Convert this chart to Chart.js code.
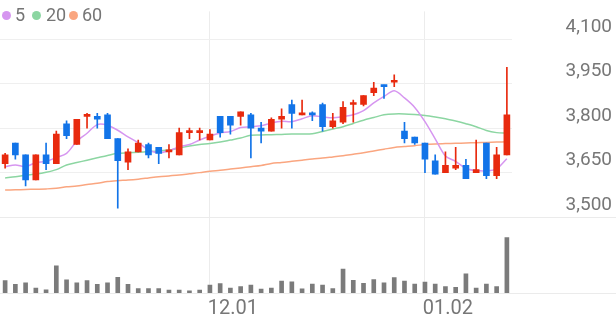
<!DOCTYPE html>
<html>
<head>
<meta charset="utf-8">
<script src="https://cdn.jsdelivr.net/npm/chart.js@4.4.0/dist/chart.umd.min.js"></script>
<style>
  html, body { margin: 0; padding: 0; background: #fff; }
  #wrap { position: relative; width: 616px; height: 321px; }
  #legend { position: absolute; left: 0; top: 0; width: 120px; height: 30px; font: 18px Roboto, sans-serif; color: #757575; }
  #legend .dot { position: absolute; top: 11px; width: 9px; height: 9px; border-radius: 50%; }
  #legend .txt { position: absolute; top: 4px; line-height: 22px; }
</style>
</head>
<body>
<div id="wrap">
  <canvas id="myChart" width="616" height="321"></canvas>
  <div id="legend"></div>
</div>
<script>
// 거래일 (2022.11.03 ~ 2023.01.12)
const dates = [
  '11.03', '11.04', '11.07', '11.08', '11.09', '11.10', '11.11', '11.14', '11.15', '11.16',
  '11.17', '11.18', '11.21', '11.22', '11.23', '11.24', '11.25', '11.28', '11.29', '11.30',
  '12.01', '12.02', '12.05', '12.06', '12.07', '12.08', '12.09', '12.12', '12.13', '12.14',
  '12.15', '12.16', '12.19', '12.20', '12.21', '12.22', '12.23', '12.26', '12.27', '12.28',
  '12.29', '01.02', '01.03', '01.04', '01.05', '01.06', '01.09', '01.10', '01.11', '01.12'
];

// 시가 / 고가 / 저가 / 종가
const openP = [
  3680, 3750, 3710, 3625, 3710, 3680, 3815, 3745, 3840, 3840,
  3845, 3765, 3685, 3720, 3745, 3735, 3720, 3710, 3785, 3785,
  3760, 3840, 3840, 3840, 3845, 3800, 3790, 3830, 3880, 3845,
  3850, 3880, 3805, 3820, 3880, 3880, 3920, 3945, 3955, 3790,
  3770, 3750, 3690, 3650, 3665, 3675, 3650, 3750, 3640, 3710
];
const highP = [
  3715, 3750, 3710, 3710, 3750, 3790, 3825, 3830, 3850, 3850,
  3850, 3765, 3730, 3760, 3750, 3735, 3745, 3800, 3800, 3800,
  3795, 3840, 3840, 3855, 3850, 3820, 3835, 3865, 3895, 3895,
  3855, 3885, 3850, 3890, 3895, 3910, 3955, 3945, 3980, 3820,
  3770, 3750, 3710, 3720, 3735, 3695, 3760, 3750, 3735, 4005
];
const lowP = [
  3665, 3695, 3605, 3625, 3660, 3680, 3765, 3745, 3800, 3800,
  3765, 3530, 3660, 3720, 3700, 3680, 3700, 3710, 3765, 3760,
  3760, 3770, 3780, 3810, 3700, 3750, 3790, 3800, 3800, 3845,
  3825, 3790, 3800, 3815, 3820, 3875, 3910, 3900, 3940, 3750,
  3745, 3650, 3645, 3650, 3660, 3630, 3650, 3630, 3630, 3710
];
const closeP = [
  3710, 3710, 3625, 3710, 3680, 3780, 3775, 3830, 3845, 3830,
  3765, 3690, 3720, 3750, 3710, 3715, 3725, 3785, 3790, 3785,
  3780, 3785, 3810, 3855, 3800, 3790, 3830, 3840, 3850, 3850,
  3845, 3805, 3825, 3870, 3885, 3910, 3935, 3940, 3960, 3765,
  3750, 3695, 3645, 3675, 3675, 3630, 3660, 3640, 3710, 3845
];

// 이동평균선
const ma5 = [
  3670, 3676, 3670, 3684, 3688, 3701, 3715, 3756, 3783, 3812,
  3810, 3793, 3771, 3751, 3727, 3717, 3724, 3737, 3745, 3760,
  3773, 3784, 3789, 3802, 3805, 3808, 3817, 3823, 3822, 3832,
  3842, 3838, 3835, 3839, 3845, 3859, 3885, 3907, 3926, 3902,
  3870, 3822, 3764, 3706, 3688, 3664, 3657, 3656, 3663, 3697
];
const ma20 = [
  3632, 3636, 3641, 3645, 3651, 3660, 3676, 3684, 3692, 3700,
  3708, 3715, 3717, 3719, 3721, 3723, 3726, 3733, 3740, 3745,
  3748, 3753, 3760, 3767, 3776, 3777, 3778, 3779, 3780, 3780,
  3781, 3789, 3797, 3805, 3816, 3827, 3836, 3845, 3848, 3848,
  3846, 3843, 3838, 3832, 3824, 3815, 3805, 3792, 3785, 3783
];
const ma60 = [
  3591, 3592, 3593, 3594, 3595, 3597, 3602, 3605, 3610, 3614,
  3620, 3623, 3625, 3628, 3632, 3636, 3639, 3642, 3646, 3650,
  3655, 3658, 3662, 3666, 3670, 3674, 3681, 3684, 3688, 3692,
  3696, 3699, 3703, 3707, 3712, 3717, 3723, 3729, 3735, 3738,
  3741, 3745, 3747, 3748, 3749, 3750, 3751, 3752, 3753, 3754
];

// 거래량
const volume = [
  130000, 90000, 107000, 50000, 33000, 283000, 137000, 107000, 130000, 90000,
  107000, 163000, 90000, 47000, 47000, 47000, 30000, 30000, 23000, 30000,
  83000, 97000, 50000, 67000, 83000, 40000, 50000, 123000, 117000, 43000,
  93000, 83000, 47000, 250000, 133000, 100000, 140000, 107000, 160000, 123000,
  93000, 113000, 93000, 67000, 60000, 200000, 50000, 93000, 67000, 577000
];

const priceTicks = [3500, 3650, 3800, 3950, 4100];
const dateTicks = ['12.01', '01.02'];
const maLabels = ['5', '20', '60'];
const maColors = ['rgb(214,150,240)', 'rgb(140,214,162)', 'rgb(250,166,128)'];

const UP = 'rgb(232,42,14)';
const DOWN = 'rgb(18,116,232)';
const candleColor = closeP.map((c, i) => c >= openP[i] ? UP : DOWN);

// 범례 (5 / 20 / 60)
const legendPos = [[2, 15], [32, 46], [69, 82]];
const legendEl = document.getElementById('legend');
maLabels.forEach((lab, i) => {
  const dot = document.createElement('span');
  dot.className = 'dot';
  dot.style.left = legendPos[i][0] + 'px';
  dot.style.background = maColors[i];
  const txt = document.createElement('span');
  txt.className = 'txt';
  txt.style.left = legendPos[i][1] + 'px';
  txt.textContent = lab;
  legendEl.appendChild(dot);
  legendEl.appendChild(txt);
});

// 가격/거래량 구분선 (전체 폭)
const panelLines = {
  id: 'panelLines',
  beforeDatasetsDraw(chart) {
    const { ctx, chartArea, scales } = chart;
    const ys = [scales.y.getPixelForValue(priceTicks[0]), chartArea.bottom];
    ctx.save();
    ctx.strokeStyle = '#ebebeb';
    ctx.lineWidth = 1;
    ys.forEach(y => {
      const yy = Math.round(y) + 0.5;
      ctx.beginPath();
      ctx.moveTo(0, yy);
      ctx.lineTo(chart.width, yy);
      ctx.stroke();
    });
    ctx.restore();
  }
};

const maLine = (data, i) => ({
  type: 'line',
  label: maLabels[i],
  data: data,
  borderColor: maColors[i],
  backgroundColor: maColors[i],
  borderWidth: 1.5,
  pointRadius: 0,
  tension: 0.3,
  yAxisID: 'y',
  order: 2
});

const ctx = document.getElementById('myChart').getContext('2d');
const myChart = new Chart(ctx, {
  type: 'bar',
  data: {
    labels: dates,
    datasets: [
      {
        label: 'body',
        data: dates.map((d, i) => [openP[i], closeP[i]]),
        backgroundColor: candleColor,
        barThickness: 6,
        minBarLength: 2,
        grouped: false,
        yAxisID: 'y',
        order: 0
      },
      {
        label: 'wick',
        data: dates.map((d, i) => [lowP[i], highP[i]]),
        backgroundColor: candleColor,
        barThickness: 1,
        grouped: false,
        yAxisID: 'y',
        order: 1
      },
      maLine(ma5, 0),
      maLine(ma20, 1),
      maLine(ma60, 2),
      {
        label: 'volume',
        data: volume,
        backgroundColor: '#7b7b7b',
        barThickness: 4,
        grouped: false,
        yAxisID: 'yv',
        order: 3
      }
    ]
  },
  options: {
    responsive: false,
    animation: false,
    layout: { autoPadding: false, padding: { left: 0, right: 4, top: 0, bottom: 0 } },
    plugins: {
      legend: { display: false },
      tooltip: { enabled: false }
    },
    scales: {
      x: {
        offset: true,
        grid: {
          offset: false,
          drawTicks: false,
          color: c => (c.tick && dateTicks.includes(c.tick.label)) ? '#ececec' : 'rgba(0,0,0,0)'
        },
        border: { display: false },
        ticks: {
          autoSkip: false,
          maxRotation: 0,
          padding: 4,
          labelOffset: 23,
          color: '#777',
          font: { family: 'Roboto', size: 20 },
          callback: function(v, i) { return dateTicks.includes(dates[i]) ? dates[i] : ''; }
        },
        afterFit: s => { s.height = 28; }
      },
      y: {
        position: 'right',
        min: 3243.8,
        max: 4194.05,
        afterBuildTicks: s => { s.ticks = priceTicks.map(v => ({ value: v })); },
        grid: { color: '#efefef', drawTicks: false },
        border: { display: false },
        ticks: {
          crossAlign: 'far',
          labelOffset: -12,
          padding: 0,
          color: '#777',
          font: { family: 'Roboto', size: 19 },
          callback: v => v.toLocaleString('en-US')
        },
        afterFit: s => { s.width = 100; }
      },
      yv: {
        display: false,
        min: 0,
        max: 2930000
      }
    }
  },
  plugins: [panelLines]
});
</script>
</body>
</html>
